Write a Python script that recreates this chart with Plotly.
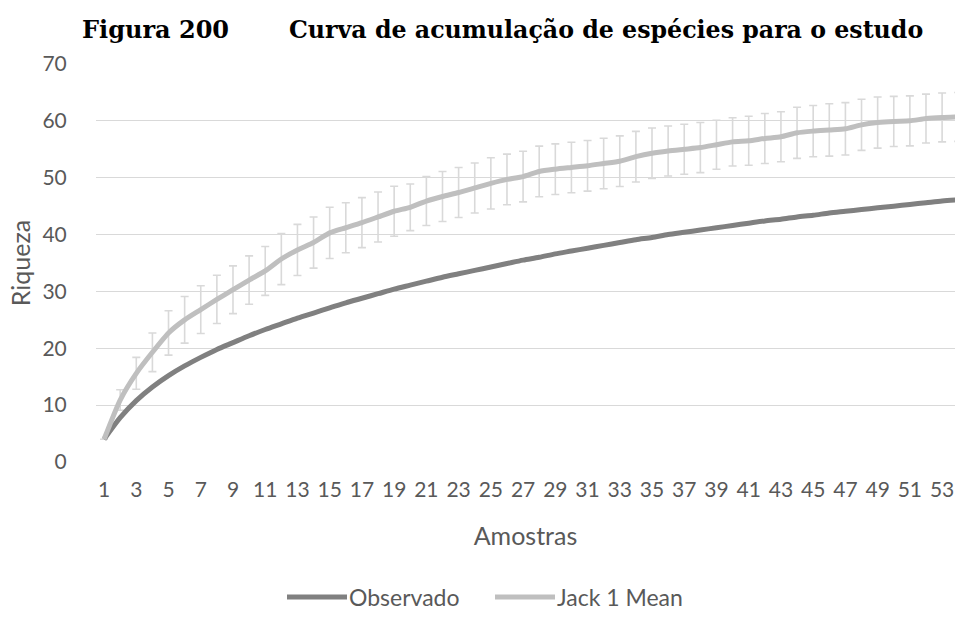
import plotly.graph_objects as go

# Sample index (1..54); the last sample sits just past the right edge of the view
amostras = list(range(1, 55))

observado = [
    4.0, 7.8, 10.8, 13.2, 15.2, 16.9, 18.4, 19.8, 21.0, 22.2,
    23.3, 24.3, 25.3, 26.2, 27.1, 28.0, 28.8, 29.6, 30.4, 31.1,
    31.8, 32.5, 33.1, 33.7, 34.3, 34.9, 35.5, 36.0, 36.6, 37.1,
    37.6, 38.1, 38.6, 39.1, 39.5, 40.0, 40.4, 40.8, 41.2, 41.6,
    42.0, 42.4, 42.7, 43.1, 43.4, 43.8, 44.1, 44.4, 44.7, 45.0,
    45.3, 45.6, 45.9, 46.1,
]

jack1_mean = [
    4.0, 10.9, 15.6, 19.3, 22.7, 25.0, 26.8, 28.6, 30.3, 32.0,
    33.6, 35.7, 37.3, 38.6, 40.3, 41.2, 42.1, 43.1, 44.1, 44.8,
    45.9, 46.7, 47.4, 48.2, 49.0, 49.7, 50.2, 51.1, 51.5, 51.8,
    52.1, 52.5, 52.9, 53.7, 54.3, 54.7, 55.0, 55.3, 55.8, 56.3,
    56.5, 56.9, 57.2, 57.9, 58.2, 58.4, 58.6, 59.3, 59.7, 59.9,
    60.0, 60.4, 60.6, 60.7,
]

jack1_sd = [
    0.0, 1.8, 2.8, 3.4, 3.9, 4.1, 4.2, 4.25, 4.2, 4.25,
    4.3, 4.5, 4.5, 4.5, 4.5, 4.4, 4.4, 4.4, 4.4, 4.1,
    4.3, 4.4, 4.4, 4.4, 4.5, 4.45, 4.45, 4.45, 4.45, 4.45,
    4.45, 4.45, 4.45, 4.45, 4.45, 4.4, 4.4, 4.4, 4.3, 4.25,
    4.3, 4.4, 4.4, 4.5, 4.5, 4.6, 4.6, 4.5, 4.5, 4.4,
    4.4, 4.3, 4.3, 4.3,
]

y_ticks = [0, 10, 20, 30, 40, 50, 60, 70]
x_ticks = list(range(1, 54, 2))

DARK = "#808080"
LIGHT = "#BFBFBF"
ERR = "#D9D9D9"
GRID = "#D9D9D9"
TEXT = "#595959"
FONT = "Lato"

fig = go.Figure()

# Standard deviation bars of Jack 1, drawn first so the curves sit on top
fig.add_trace(go.Scatter(
    x=amostras, y=jack1_mean, mode="markers",
    marker=dict(size=1, color="rgba(0,0,0,0)"),
    error_y=dict(type="data", array=jack1_sd, visible=True,
                 color=ERR, thickness=1.6, width=4),
    showlegend=False, hoverinfo="skip",
))

fig.add_trace(go.Scatter(
    x=amostras, y=observado, mode="lines", name="Observado",
    line=dict(color=DARK, width=5, shape="spline", smoothing=0.8),
    showlegend=False,
))

fig.add_trace(go.Scatter(
    x=amostras, y=jack1_mean, mode="lines", name="Jack 1 Mean",
    line=dict(color=LIGHT, width=5, shape="spline", smoothing=0.6),
    showlegend=False,
))

W, H = 955, 623
L, T, B = 96, 64, 161

fig.update_layout(
    width=W, height=H,
    margin=dict(l=L, r=0, t=T, b=B, pad=0),
    paper_bgcolor="white", plot_bgcolor="white",
    font=dict(family=FONT, color=TEXT, size=21),
    xaxis=dict(
        range=[0.5, 53.8], tickmode="array", tickvals=x_ticks,
        ticktext=[str(v) for v in x_ticks],
        showgrid=False, zeroline=False, showline=False,
        ticks="outside", ticklen=9, tickcolor="rgba(0,0,0,0)",
        tickfont=dict(family=FONT, size=21, color=TEXT),
        title=dict(text="Amostras", font=dict(family=FONT, size=25, color=TEXT),
                   standoff=27),
    ),
    yaxis=dict(
        range=[0, 70], tickmode="array", tickvals=y_ticks,
        showgrid=True, gridcolor=GRID, gridwidth=1.3,
        zeroline=False, showline=False,
        ticks="outside", ticklen=24, tickcolor="rgba(0,0,0,0)",
        tickfont=dict(family=FONT, size=21, color=TEXT),
        title=dict(text="Riqueza", font=dict(family=FONT, size=25, color=TEXT),
                   standoff=4),
    ),
)

# Figure caption
caption_y = 1 + (T - 30) / (H - T - B)
fig.add_annotation(
    text="<b>Figura 200</b>", xref="paper", yref="paper",
    x=(80 - L) / (W - L), y=caption_y,
    xanchor="left", yanchor="middle", showarrow=False,
    font=dict(family="DejaVu Serif", size=24, color="black"),
)
fig.add_annotation(
    text="<b>Curva de acumulação de espécies para o estudo</b>",
    xref="paper", yref="paper",
    x=(287 - L) / (W - L), y=caption_y,
    xanchor="left", yanchor="middle", showarrow=False,
    font=dict(family="DejaVu Serif", size=23.7, color="black"),
)

# Legend below the plot: line sample followed by the series name
legend_y = 1 - (597 - T) / (H - T - B)
for x0, color, label in [(287, DARK, "Observado"), (495, LIGHT, "Jack 1 Mean")]:
    fig.add_shape(
        type="line", xref="paper", yref="paper",
        x0=(x0 - L) / (W - L), x1=(x0 + 60 - L) / (W - L),
        y0=legend_y, y1=legend_y,
        line=dict(color=color, width=5),
    )
    fig.add_annotation(
        text=label, xref="paper", yref="paper",
        x=(x0 + 60 - L) / (W - L), y=legend_y,
        xanchor="left", yanchor="middle", showarrow=False,
        font=dict(family=FONT, size=23, color=TEXT),
    )

fig.write_html("out.html")
